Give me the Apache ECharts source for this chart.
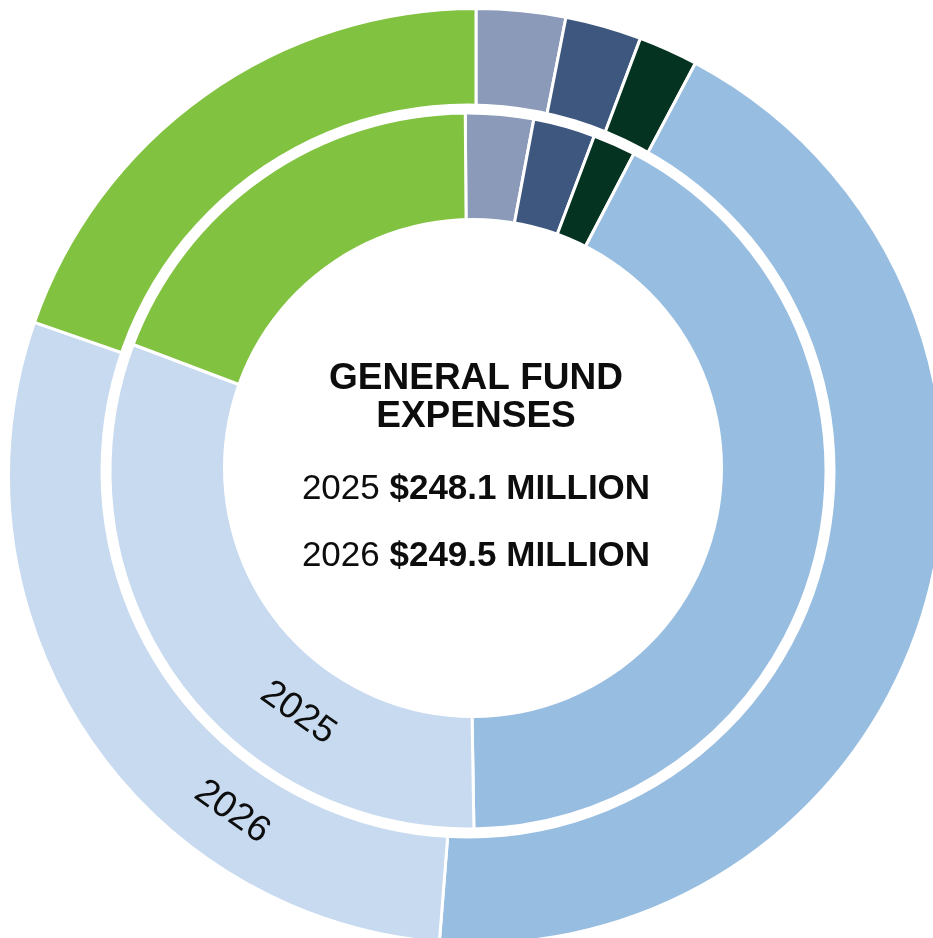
<!DOCTYPE html>
<html>
<head>
<meta charset="utf-8">
<script src="https://cdn.jsdelivr.net/npm/echarts@6/dist/echarts.min.js"></script>
<style>
  html, body { margin: 0; padding: 0; background: #fff; }
  #main { width: 933px; height: 938px; }
</style>
</head>
<body>
<div id="main"></div>
<script>
// segments, clockwise from the top
const categories = ['Segment 1', 'Segment 2', 'Segment 3', 'Segment 4', 'Segment 5', 'Segment 6']
const values2025 = [7.61, 6.93, 4.79, 104.37, 76.94, 47.46] // $ million
const values2026 = [7.69, 6.58, 5.13, 108.46, 72.56, 49.07]
const years = ['2025', '2026']
const totals = ['$248.1 MILLION', '$249.5 MILLION']
const titleLines = ['GENERAL FUND', 'EXPENSES']

const palette = ['#8a9ab8', '#3e577e', '#053321', '#97bde1', '#c7daef', '#82c241']
const fontFamily = '"Liberation Sans", Arial, sans-serif'

// the rings in the original are not quite concentric
function ring (values, center, radius, startAngle) {
  return {
    type: 'pie',
    center: center,
    radius: radius,
    startAngle: startAngle,
    clockwise: true,
    silent: true,
    avoidLabelOverlap: false,
    label: { show: false },
    labelLine: { show: false },
    itemStyle: { borderColor: '#fff', borderWidth: 3 },
    data: values.map((v, i) => ({ name: categories[i], value: v, itemStyle: { color: palette[i] } }))
  }
}

// white disc used to cut the gap / hole
function disc (center, r) {
  return {
    type: 'pie',
    center: center,
    radius: [0, r],
    silent: true,
    label: { show: false },
    labelLine: { show: false },
    itemStyle: { color: '#fff', borderWidth: 0 },
    data: [{ name: 'blank', value: 1 }]
  }
}

const chart = echarts.init(document.getElementById('main'), null, { renderer: 'canvas' })
const rot = -35 * Math.PI / 180
const textFill = '#0d0d0d'

chart.setOption({
  animation: false,
  backgroundColor: '#fff',
  series: [
    ring(values2026, [476, 476], [330, 467.5], 90), // outer ring 2026
    disc([468, 471], 367.5),
    ring(values2025, [468, 471], [230, 358], 90.44), // inner ring 2025
    disc([473, 468], 250)
  ],
  graphic: [
    { type: 'text', x: 476, y: 379, z: 10, style: { text: titleLines[0], font: 'bold 37px ' + fontFamily, fill: textFill, textAlign: 'center', textVerticalAlign: 'middle' } },
    { type: 'text', x: 476, y: 417, z: 10, style: { text: titleLines[1], font: 'bold 37px ' + fontFamily, fill: textFill, textAlign: 'center', textVerticalAlign: 'middle' } },
    {
      type: 'text', x: 476, y: 489, z: 10,
      style: {
        text: '{y|' + years[0] + ' }{v|' + totals[0] + '}',
        textAlign: 'center', textVerticalAlign: 'middle',
        rich: {
          y: { font: '35px ' + fontFamily, fill: textFill },
          v: { font: 'bold 35px ' + fontFamily, fill: textFill }
        }
      }
    },
    {
      type: 'text', x: 476, y: 556, z: 10,
      style: {
        text: '{y|' + years[1] + ' }{v|' + totals[1] + '}',
        textAlign: 'center', textVerticalAlign: 'middle',
        rich: {
          y: { font: '35px ' + fontFamily, fill: textFill },
          v: { font: 'bold 35px ' + fontFamily, fill: textFill }
        }
      }
    },
    // ring labels
    { type: 'text', x: 298, y: 713, rotation: rot, z: 10, style: { text: years[0], font: '37px ' + fontFamily, fill: textFill, textAlign: 'center', textVerticalAlign: 'middle' } },
    { type: 'text', x: 232, y: 812, rotation: rot, z: 10, style: { text: years[1], font: '37px ' + fontFamily, fill: textFill, textAlign: 'center', textVerticalAlign: 'middle' } }
  ]
})
</script>
</body>
</html>
